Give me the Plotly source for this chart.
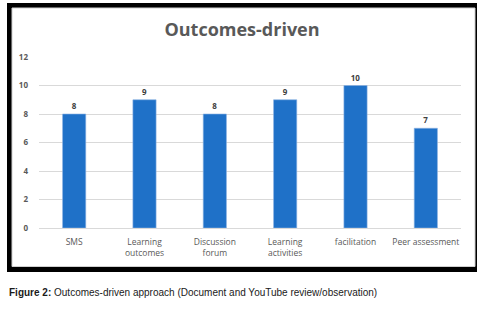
import plotly.graph_objects as go

categories = ["SMS", "Learning<br>outcomes", "Discussion<br>forum", "Learning<br>activities", "facilitation", "Peer assessment"]
values = [8, 9, 8, 9, 10, 7]
y_ticks = [0, 2, 4, 6, 8, 10, 12]

W, H = 480, 312
L, R, T, B = 39, 461, 57, 228  # plot area in pixels

def px(x):
    return (x - L) / (R - L)

def py(y):
    return (B - y) / (B - T)

fig = go.Figure()
fig.add_trace(go.Bar(
    x=categories, y=values,
    marker=dict(color="#1F71C8", line=dict(color="#8FB4E3", width=0.6)),
    text=[str(v) for v in values], textposition="outside",
    textfont=dict(family="Open Sans", size=8, color="#404040", weight="bold"),
    cliponaxis=False,
))

shapes = [
    dict(type="rect", xref="paper", yref="paper", x0=px(7), x1=px(477), y0=py(272), y1=py(3),
         fillcolor="black", line=dict(width=0), layer="below"),
    dict(type="rect", xref="paper", yref="paper", x0=px(12), x1=px(475), y0=py(266.5), y1=py(8),
         fillcolor="white", line=dict(color="#D0D0D0", width=1), layer="below"),
]

fig.update_layout(
    width=W, height=H,
    margin=dict(l=L, r=W - R, t=T, b=H - B, pad=0),
    paper_bgcolor="white", plot_bgcolor="rgba(0,0,0,0)",
    bargap=0.67, showlegend=False,
    shapes=shapes,
    title=dict(text="Outcomes-driven", x=px(242), xref="paper", xanchor="center",
               y=1 - 30 / H, yanchor="middle",
               font=dict(family="Open Sans", size=18, color="#595959", weight="bold")),
    xaxis=dict(showgrid=False, showline=True, linecolor="#D9D9D9", linewidth=1,
               tickfont=dict(family="Open Sans", size=8.5, color="#595959"),
               ticks="outside", ticklen=6, tickcolor="rgba(0,0,0,0)"),
    yaxis=dict(range=[0, 12], tickvals=y_ticks, showgrid=True, gridcolor="#D9D9D9",
               zeroline=False, showline=False,
               tickfont=dict(family="Open Sans", size=8, color="#595959", weight="bold"),
               ticklabelstandoff=10),
    annotations=[dict(text="<b>Figure 2:</b> Outcomes-driven approach (Document and YouTube review/observation)",
                      xref="paper", yref="paper", x=px(7), y=py(292), xanchor="left", yanchor="middle",
                      showarrow=False, font=dict(family="Liberation Sans, Arial", size=10, color="#1a1a1a"))],
)

fig.write_html("out.html", config={"displayModeBar": False},
               post_script="document.body.style.margin='0';document.body.style.overflow='hidden';")
